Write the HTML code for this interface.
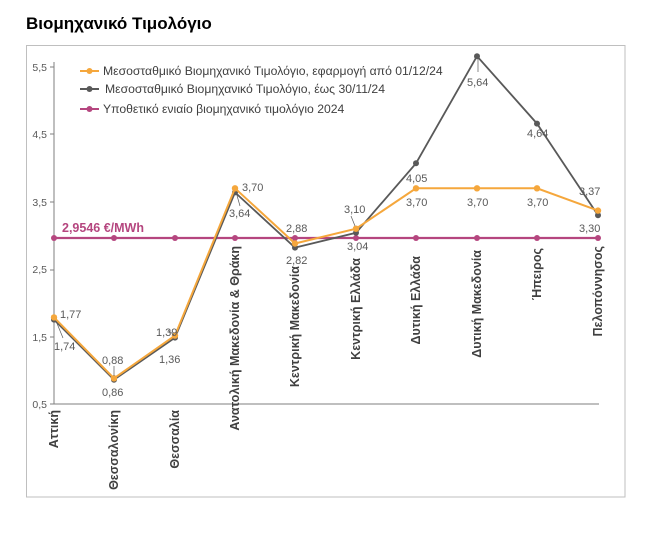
<!DOCTYPE html>
<html><head><meta charset="utf-8"><style>
body{margin:0;background:#fff;width:665px;height:547px;overflow:hidden}
svg{display:block}
text{font-family:"Liberation Sans",Arial,sans-serif}
</style></head><body>
<svg width="665" height="547" viewBox="0 0 665 547">
<text x="26" y="29" font-size="17" font-weight="bold" fill="#000">Βιομηχανικό Τιμολόγιο</text>
<rect x="26.5" y="45.5" width="598.5" height="451.5" fill="none" stroke="#bfbfbf" stroke-width="1"/>
<line x1="54" y1="62" x2="54" y2="404" stroke="#7f7f7f" stroke-width="1"/>
<line x1="54" y1="404" x2="599" y2="404" stroke="#7f7f7f" stroke-width="1"/>
<g font-size="10.5" fill="#595959" text-anchor="end">
<text x="47" y="71">5,5</text>
<text x="47" y="138">4,5</text>
<text x="47" y="206">3,5</text>
<text x="47" y="273">2,5</text>
<text x="47" y="341">1,5</text>
<text x="47" y="408">0,5</text>
</g>
<g stroke="#7f7f7f"><line x1="50" y1="67" x2="54" y2="67"/><line x1="50" y1="134" x2="54" y2="134"/><line x1="50" y1="202" x2="54" y2="202"/><line x1="50" y1="270" x2="54" y2="270"/><line x1="50" y1="337" x2="54" y2="337"/><line x1="50" y1="404" x2="54" y2="404"/></g>
<line x1="54" y1="238" x2="598" y2="238" stroke="#b5467f" stroke-width="2.2"/>
<g fill="#b5467f"><circle cx="54" cy="238" r="3"/><circle cx="114" cy="238" r="3"/><circle cx="175" cy="238" r="3"/><circle cx="235" cy="238" r="3"/><circle cx="295" cy="238" r="3"/><circle cx="356" cy="238" r="3"/><circle cx="416" cy="238" r="3"/><circle cx="477" cy="238" r="3"/><circle cx="537" cy="238" r="3"/><circle cx="598" cy="238" r="3"/></g>
<text x="62" y="232" font-size="12.5" font-weight="bold" fill="#b5467f">2,9546 €/MWh</text>
<polyline fill="none" stroke="#595959" stroke-width="1.8" points="54,319.6 114,379.7 175,337.6 235,192.4 295,247.6 356,232.8 416,163.3 477,56.2 537,123.6 598,215.3"/>
<g fill="#595959"><circle cx="54" cy="319.6" r="3"/><circle cx="114" cy="379.7" r="3"/><circle cx="175" cy="337.6" r="3"/><circle cx="235" cy="192.4" r="3"/><circle cx="295" cy="247.6" r="3"/><circle cx="356" cy="232.8" r="3"/><circle cx="416" cy="163.3" r="3"/><circle cx="477" cy="56.2" r="3"/><circle cx="537" cy="123.6" r="3"/><circle cx="598" cy="215.3" r="3"/></g>
<polyline fill="none" stroke="#f5a73c" stroke-width="2" points="54,317.4 114,378.3 175,335.6 235,188.3 295,243.5 356,228.7 416,188.3 477,188.3 537,188.3 598,210.6"/>
<g fill="#f5a73c"><circle cx="54" cy="317.4" r="3.2"/><circle cx="114" cy="378.3" r="3.2"/><circle cx="175" cy="335.6" r="3.2"/><circle cx="235" cy="188.3" r="3.2"/><circle cx="295" cy="243.5" r="3.2"/><circle cx="356" cy="228.7" r="3.2"/><circle cx="416" cy="188.3" r="3.2"/><circle cx="477" cy="188.3" r="3.2"/><circle cx="537" cy="188.3" r="3.2"/><circle cx="598" cy="210.6" r="3.2"/></g>
<g font-size="11" fill="#595959">
<text x="60" y="318">1,77</text><text x="54" y="350">1,74</text>
<line x1="56" y1="321" x2="63" y2="338" stroke="#595959" stroke-width="0.7"/>
<text x="102" y="364">0,88</text><text x="102" y="396">0,86</text>
<line x1="114" y1="366" x2="114" y2="376" stroke="#595959" stroke-width="0.7"/>
<text x="156" y="336">1,39</text><text x="159" y="363">1,36</text>
<line x1="168" y1="330" x2="174" y2="335" stroke="#595959" stroke-width="0.7"/>
<text x="242" y="191">3,70</text><text x="229" y="217">3,64</text>
<line x1="236" y1="192" x2="240" y2="206" stroke="#595959" stroke-width="0.7"/>
<text x="286" y="232">2,88</text><text x="286" y="264">2,82</text>
<text x="344" y="213">3,10</text><text x="347" y="250">3,04</text>
<line x1="351" y1="216" x2="355" y2="226" stroke="#595959" stroke-width="0.7"/>
<text x="406" y="182">4,05</text><text x="406" y="206">3,70</text>
<text x="467" y="86">5,64</text>
<line x1="478" y1="58" x2="478" y2="72" stroke="#595959" stroke-width="0.7"/>
<text x="527" y="206">3,70</text><text x="527" y="137">4,64</text>
<text x="467" y="206">3,70</text>
<text x="579" y="195">3,37</text><text x="579" y="232">3,30</text>
</g>
<g font-size="12.5" font-weight="bold" fill="#404040" text-anchor="end">
<text transform="translate(58,410) rotate(-90)">Αττική</text>
<text transform="translate(118,410) rotate(-90)">Θεσσαλονίκη</text>
<text transform="translate(179,410) rotate(-90)">Θεσσαλία</text>
<text transform="translate(239,246) rotate(-90)">Ανατολική Μακεδονία &amp; Θράκη</text>
<text transform="translate(299,266) rotate(-90)">Κεντρική Μακεδονία</text>
<text transform="translate(360,258) rotate(-90)">Κεντρική Ελλάδα</text>
<text transform="translate(420,256) rotate(-90)">Δυτική Ελλάδα</text>
<text transform="translate(481,250) rotate(-90)">Δυτική Μακεδονία</text>
<text transform="translate(541,248) rotate(-90)">Ήπειρος</text>
<text transform="translate(602,246) rotate(-90)">Πελοπόννησος</text>
</g>
<g stroke-width="2">
<line x1="80" y1="71" x2="99" y2="71" stroke="#f5a73c"/><circle cx="89.5" cy="71" r="3" fill="#f5a73c"/>
<line x1="80" y1="89" x2="99" y2="89" stroke="#595959"/><circle cx="89.5" cy="89" r="3" fill="#595959"/>
<line x1="80" y1="109" x2="99" y2="109" stroke="#b5467f"/><circle cx="89.5" cy="109" r="3" fill="#b5467f"/>
</g>
<g font-size="12.2" fill="#404040">
<text x="103" y="75">Μεσοσταθμικό Βιομηχανικό Τιμολόγιο, εφαρμογή από 01/12/24</text>
<text x="105" y="93">Μεσοσταθμικό Βιομηχανικό Τιμολόγιο, έως 30/11/24</text>
<text x="103" y="113">Υποθετικό ενιαίο βιομηχανικό τιμολόγιο 2024</text>
</g>
</svg>
</body></html>
